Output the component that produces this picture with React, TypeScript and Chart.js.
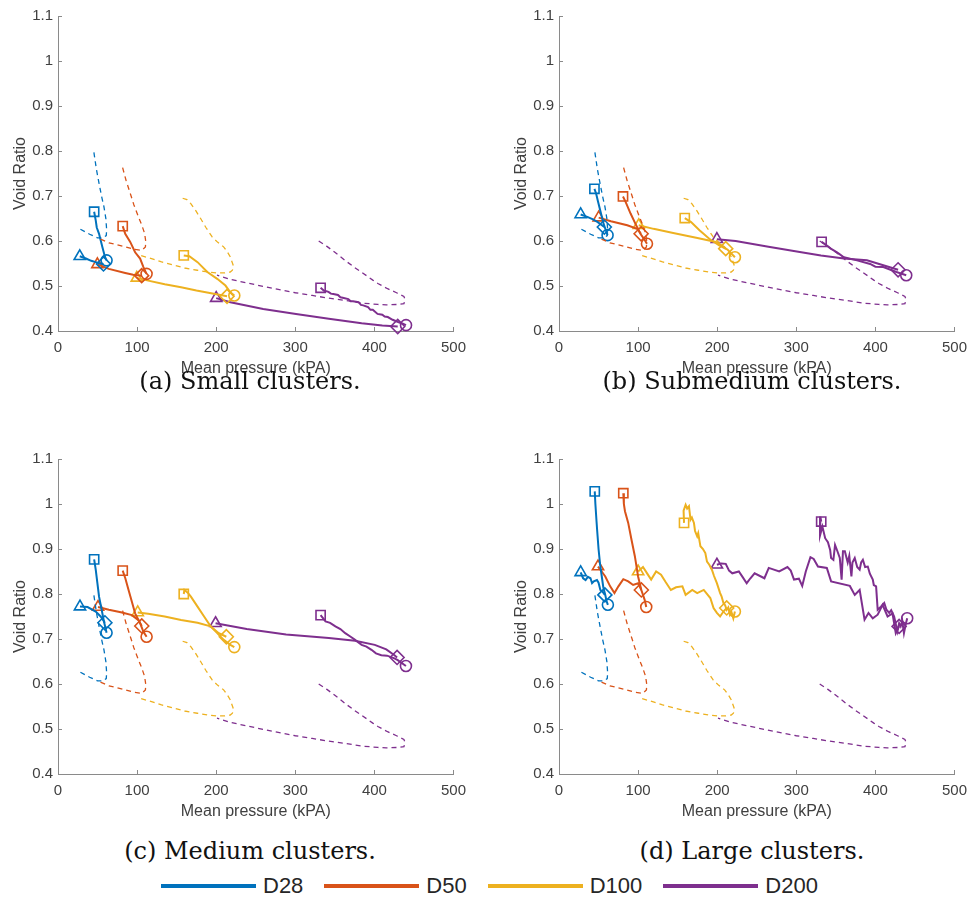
import React, { useEffect, useRef } from "react";
import { Chart, registerables } from "chart.js";
Chart.register(...registerables);

type P = [number, number];

const seriesNames = ["D28", "D50", "D100", "D200"];
const colors = ["#0072BD", "#D95319", "#EDB120", "#7E2F8E"];
const xTicks = [0, 100, 200, 300, 400, 500];
const yTicks = [0.4, 0.5, 0.6, 0.7, 0.8, 0.9, 1, 1.1];
const captions = ["(a) Small clusters.", "(b) Submedium clusters.", "(c) Medium clusters.", "(d) Large clusters."];
const xTitle = "Mean pressure (kPA)";
const yTitle = "Void Ratio";

// reference (dashed) curves, identical in every panel
const ref_D28: P[] = [[45.4, 0.797], [48.5, 0.76], [51.9, 0.728], [55, 0.70], [58.1, 0.676], [60.5, 0.65], [61.5, 0.625], [61, 0.612], [57, 0.607], [50, 0.607], [40, 0.615], [27.4, 0.627]];
const ref_D50: P[] = [[81.7, 0.763], [86, 0.735], [91.3, 0.706], [96, 0.68], [101.6, 0.654], [106, 0.635], [109.5, 0.617], [111, 0.598], [110.5, 0.587], [106, 0.579], [95, 0.582], [85, 0.587], [64.3, 0.596], [50, 0.607]];
const ref_D100: P[] = [[157.6, 0.695], [163, 0.692], [167.9, 0.683], [174, 0.668], [180.3, 0.650], [187, 0.630], [194.9, 0.609], [202, 0.597], [209.4, 0.587], [214, 0.576], [217.7, 0.565], [221.9, 0.544], [220.5, 0.535], [217.7, 0.531], [210, 0.529], [201.1, 0.529], [190, 0.531], [176.2, 0.535], [160, 0.54], [147.2, 0.546], [130, 0.554], [118.2, 0.561], [101.6, 0.569]];
const ref_D200: P[] = [[329.6, 0.600], [340, 0.588], [350, 0.575], [362.8, 0.557], [375, 0.541], [390, 0.523], [398, 0.513], [405, 0.505], [416.7, 0.494], [428, 0.485], [437.3, 0.477], [438.7, 0.470], [437.4, 0.461], [430, 0.459], [415, 0.458], [404.3, 0.459], [385, 0.462], [362.8, 0.468], [342, 0.473], [321.4, 0.479], [300, 0.485], [279.9, 0.492], [260, 0.499], [238.4, 0.507], [217.6, 0.515], [201, 0.524]];

// (a) Small clusters: unload = square -> circle, load = triangle -> diamond
const a_D28_unload: P[] = [[45.7, 0.665], [47.7, 0.646], [49, 0.63], [51.9, 0.616], [56, 0.587], [59.3, 0.565], [61.4, 0.557]];
const a_D28_load: P[] = [[27.5, 0.566], [35.3, 0.561], [42, 0.556], [47.7, 0.553], [53, 0.550], [57.5, 0.549]];
const a_D50_unload: P[] = [[81.8, 0.633], [85, 0.616], [91.3, 0.598], [97.5, 0.575], [103.8, 0.561], [108, 0.542], [112, 0.527]];
const a_D50_load: P[] = [[49.8, 0.548], [64.3, 0.538], [85, 0.529], [95, 0.525], [105.8, 0.523]];
const a_D100_unload: P[] = [[159, 0.568], [166, 0.566], [176.4, 0.553], [188.8, 0.531], [201.3, 0.516], [211.7, 0.501], [217.9, 0.486], [222.9, 0.479]];
const a_D100_load: P[] = [[99.6, 0.518], [114, 0.512], [135, 0.504], [155.6, 0.497], [175, 0.49], [197, 0.483], [213.7, 0.477]];
const a_D200_unload: P[] = [[332, 0.496], [336, 0.490], [342, 0.487], [345, 0.483], [348, 0.482], [354, 0.480], [357, 0.475], [360, 0.474], [367, 0.471], [370, 0.466], [373, 0.466], [380, 0.464], [383, 0.458], [386, 0.457], [392, 0.453], [395, 0.447], [398, 0.447], [404, 0.438], [410, 0.436], [413, 0.432], [417, 0.431], [423, 0.425], [430, 0.420], [436, 0.416], [440, 0.413]];
const a_D200_load: P[] = [[200, 0.473], [217.9, 0.464], [259.4, 0.449], [300.9, 0.438], [342.4, 0.427], [383.9, 0.417], [410, 0.412], [429.5, 0.410]];

// (b) Submedium clusters
const b_D28_unload: P[] = [[44.8, 0.716], [47, 0.705], [49, 0.690], [53.1, 0.661], [56.4, 0.638], [59, 0.625], [61.4, 0.613]];
const b_D28_load: P[] = [[27.4, 0.659], [36.5, 0.653], [43, 0.648], [49, 0.642], [57.3, 0.631]];
const b_D50_unload: P[] = [[80.9, 0.699], [84.2, 0.687], [90.5, 0.661], [96.7, 0.638], [102.9, 0.616], [107, 0.606], [111.2, 0.594]];
const b_D50_load: P[] = [[50.2, 0.652], [65.6, 0.644], [86.3, 0.635], [98.8, 0.627], [103.8, 0.616]];
const b_D100_unload: P[] = [[159, 0.651], [167, 0.642], [177.6, 0.624], [190, 0.605], [202.5, 0.590], [213, 0.581], [222.4, 0.564]];
const b_D100_load: P[] = [[100.8, 0.635], [119.5, 0.627], [144.4, 0.618], [173.5, 0.607], [198.4, 0.598], [204, 0.592], [210.8, 0.583]];
const b_D200_unload: P[] = [[332, 0.598], [337, 0.592], [343.6, 0.583], [352, 0.574], [360.2, 0.564], [376.8, 0.557], [393.4, 0.549], [400, 0.543], [410, 0.542], [426.6, 0.531], [439, 0.524]];
const b_D200_load: P[] = [[199.6, 0.604], [223.3, 0.600], [264.8, 0.587], [306.3, 0.575], [331.2, 0.568], [360.2, 0.561], [389.3, 0.557], [410, 0.546], [428.7, 0.536]];

// (c) Medium clusters
const c_D28_unload: P[] = [[45.7, 0.877], [47.7, 0.854], [49.8, 0.824], [51.9, 0.794], [55.2, 0.765], [58.1, 0.739], [61.4, 0.714]];
const c_D28_load: P[] = [[27.8, 0.772], [37.4, 0.771], [47.7, 0.761], [53.9, 0.750], [59.3, 0.736]];
const c_D50_unload: P[] = [[81.8, 0.852], [85.1, 0.835], [89.2, 0.809], [93.4, 0.783], [97.5, 0.757], [103.8, 0.735], [108, 0.716], [112, 0.705]];
const c_D50_load: P[] = [[50.6, 0.771], [64.3, 0.765], [80.9, 0.759], [93.4, 0.753], [101.7, 0.742], [105.9, 0.729]];
const c_D100_unload: P[] = [[159, 0.800], [159.8, 0.809], [164, 0.803], [168, 0.794], [176.4, 0.772], [184.7, 0.750], [193, 0.728], [201.3, 0.713], [209.6, 0.698], [217.9, 0.687], [222.9, 0.682]];
const c_D100_load: P[] = [[100.8, 0.759], [114, 0.756], [134.9, 0.750], [155.6, 0.742], [176.4, 0.736], [193, 0.728], [203.3, 0.713], [212.8, 0.705]];
const c_D200_unload: P[] = [[332, 0.753], [338.2, 0.739], [344, 0.736], [350.7, 0.728], [357, 0.722], [363.1, 0.713], [370, 0.705], [375.6, 0.698], [383.9, 0.687], [390, 0.683], [396.3, 0.676], [402, 0.668], [408.8, 0.664], [416, 0.663], [425.4, 0.657], [429.5, 0.653], [439.9, 0.640]];
const c_D200_load: P[] = [[199.2, 0.735], [238.6, 0.722], [288.4, 0.710], [342.4, 0.702], [375.6, 0.696], [400.5, 0.687], [415, 0.677], [425.4, 0.664], [428.7, 0.659]];

// (d) Large clusters
const d_D28_unload: P[] = [[45.2, 1.028], [46, 1.0], [47.5, 0.96], [48.3, 0.94], [50, 0.9], [52, 0.865], [54, 0.84], [56, 0.815], [58.5, 0.798], [60, 0.785], [61.8, 0.776]];
const d_D28_load: P[] = [[27.4, 0.848], [30.5, 0.835], [33.6, 0.831], [36.5, 0.838], [39.8, 0.835], [41.8, 0.824], [44, 0.828], [48, 0.831], [50, 0.825], [52.3, 0.809], [55, 0.805], [58, 0.798]];
const d_D50_unload: P[] = [[81.3, 1.024], [82, 1.0], [83.4, 0.984], [87.5, 0.958], [91.6, 0.921], [95.9, 0.884], [100, 0.839], [104.1, 0.809], [108.3, 0.787], [110.3, 0.771]];
const d_D50_load: P[] = [[49.3, 0.861], [54, 0.85], [58.5, 0.839], [64.7, 0.817], [70.1, 0.802], [75.1, 0.817], [81.3, 0.833], [87.5, 0.828], [93.7, 0.82], [100, 0.824], [104.1, 0.809]];
const d_D100_unload: P[] = [[158.1, 0.958], [157.5, 0.985], [160.1, 0.998], [162, 0.99], [164.3, 0.995], [166.3, 0.965], [168, 0.97], [170.6, 0.958], [172, 0.94], [174.7, 0.928], [176, 0.935], [178.8, 0.906], [182, 0.9], [185, 0.891], [187.1, 0.872], [190, 0.865], [193.3, 0.854], [196, 0.84], [199.6, 0.824], [203.7, 0.802], [205.5, 0.795], [207.9, 0.780], [210, 0.775], [212, 0.765], [214, 0.77], [216.1, 0.754], [218, 0.76], [220.4, 0.746], [222.4, 0.761]];
const d_D100_load: P[] = [[100, 0.85], [106.2, 0.86], [112.4, 0.843], [116.5, 0.832], [122.8, 0.85], [129, 0.843], [135, 0.826], [141.4, 0.809], [148, 0.815], [156, 0.817], [160.1, 0.798], [168.5, 0.809], [174.7, 0.802], [183, 0.809], [191.3, 0.791], [195.4, 0.769], [199.6, 0.758], [203.7, 0.750], [207.9, 0.761], [212, 0.769]];
const d_D200_unload: P[] = [[331.5, 0.961], [330.5, 0.972], [330, 0.93], [333, 0.95], [336.5, 0.924], [340, 0.915], [342.8, 0.898], [344, 0.88], [346.9, 0.876], [349, 0.909], [352, 0.895], [355, 0.88], [357.3, 0.832], [359, 0.895], [361.4, 0.895], [365, 0.87], [367, 0.885], [369.7, 0.839], [371, 0.87], [373.9, 0.88], [377, 0.86], [380.1, 0.854], [382, 0.87], [384.2, 0.876], [387, 0.86], [390.4, 0.861], [393, 0.845], [396.7, 0.832], [398, 0.82], [400.9, 0.817], [402.9, 0.765], [407, 0.772], [411.2, 0.780], [414, 0.765], [417.5, 0.758], [420, 0.764], [423.7, 0.750], [427.8, 0.717], [430, 0.735], [432, 0.728], [434, 0.74], [436.1, 0.713], [438, 0.73], [440.2, 0.746]];
const d_D200_load: P[] = [[199.6, 0.865], [205, 0.868], [210.8, 0.867], [215, 0.852], [219.1, 0.846], [227.4, 0.850], [232, 0.838], [237.3, 0.824], [242, 0.835], [247.3, 0.846], [259.7, 0.835], [265.2, 0.858], [278.4, 0.850], [288.8, 0.860], [293, 0.852], [297.1, 0.832], [303.3, 0.834], [307.5, 0.818], [312, 0.85], [317.9, 0.882], [322, 0.878], [327.4, 0.861], [338.6, 0.858], [344, 0.828], [367.7, 0.818], [373.9, 0.798], [380.1, 0.809], [386.3, 0.743], [391.3, 0.758], [396.7, 0.746], [402.9, 0.754], [409.1, 0.776], [415.4, 0.750], [421.6, 0.757], [425.8, 0.713], [430, 0.728]];

const refCurves = [ref_D28, ref_D50, ref_D100, ref_D200];
const panelUnload = [
  [a_D28_unload, a_D50_unload, a_D100_unload, a_D200_unload],
  [b_D28_unload, b_D50_unload, b_D100_unload, b_D200_unload],
  [c_D28_unload, c_D50_unload, c_D100_unload, c_D200_unload],
  [d_D28_unload, d_D50_unload, d_D100_unload, d_D200_unload],
];
const panelLoad = [
  [a_D28_load, a_D50_load, a_D100_load, a_D200_load],
  [b_D28_load, b_D50_load, b_D100_load, b_D200_load],
  [c_D28_load, c_D50_load, c_D100_load, c_D200_load],
  [d_D28_load, d_D50_load, d_D100_load, d_D200_load],
];

const SANS = "'Liberation Sans', Arial, Helvetica, sans-serif";
const TEXT = "#404040";
const AXIS = "#8a8a8a";
const markerSize: Record<string, number> = { rect: 6.5, circle: 5.5, triangle: 6.5, rectRot: 7 };

function pathDataset(pts: P[], color: string, startStyle: string, endStyle: string) {
  const n = pts.length;
  return {
    data: pts.map(([x, y]) => ({ x, y })),
    borderColor: color,
    backgroundColor: "rgba(0,0,0,0)",
    borderWidth: 2,
    showLine: true,
    fill: false,
    tension: 0,
    pointRadius: pts.map((_, i) => (i === 0 ? markerSize[startStyle] : i === n - 1 ? markerSize[endStyle] : 0)),
    pointStyle: pts.map((_, i) => (i === 0 ? startStyle : i === n - 1 ? endStyle : "circle")),
    pointBorderColor: color,
    pointBackgroundColor: "rgba(0,0,0,0)",
    pointBorderWidth: 1.6,
    clip: false as any,
  };
}

function refDataset(pts: P[], color: string) {
  return {
    data: pts.map(([x, y]) => ({ x, y })),
    borderColor: color,
    backgroundColor: "rgba(0,0,0,0)",
    borderWidth: 1.3,
    borderDash: [5, 4],
    showLine: true,
    fill: false,
    tension: 0,
    pointRadius: 0,
  };
}

const innerTicks = {
  id: "innerTicks",
  afterDraw(chart: any) {
    const { ctx, chartArea, scales } = chart;
    ctx.save();
    ctx.strokeStyle = AXIS;
    ctx.lineWidth = 1;
    ctx.beginPath();
    for (const v of xTicks) {
      const px = Math.round(scales.x.getPixelForValue(v)) + 0.5;
      ctx.moveTo(px, chartArea.bottom);
      ctx.lineTo(px, chartArea.bottom - 4);
    }
    for (const v of yTicks) {
      const py = Math.round(scales.y.getPixelForValue(v)) + 0.5;
      ctx.moveTo(chartArea.left, py);
      ctx.lineTo(chartArea.left + 4, py);
    }
    ctx.stroke();
    ctx.restore();
  },
};

function Panel({ idx, left, top }: { idx: number; left: number; top: number }) {
  const ref = useRef<HTMLCanvasElement>(null);
  useEffect(() => {
    const datasets: any[] = [];
    for (let s = 0; s < 4; s++) datasets.push(refDataset(refCurves[s], colors[s]));
    for (let s = 0; s < 4; s++) {
      datasets.push(pathDataset(panelUnload[idx][s], colors[s], "rect", "circle"));
      datasets.push(pathDataset(panelLoad[idx][s], colors[s], "triangle", "rectRot"));
    }
    const chart = new Chart(ref.current!, {
      type: "scatter",
      data: { datasets },
      options: {
        animation: false,
        responsive: false,
        events: [],
        layout: { padding: { top: 16, right: 14, left: 0, bottom: 0 } },
        plugins: { legend: { display: false }, tooltip: { enabled: false } },
        scales: {
          x: {
            type: "linear",
            min: 0,
            max: 500,
            afterBuildTicks: (s: any) => {
              s.ticks = xTicks.map((v) => ({ value: v }));
            },
            afterFit: (s: any) => {
              s.height = 50;
            },
            grid: { display: false, drawTicks: false },
            border: { display: true, color: AXIS, width: 1 },
            ticks: { color: TEXT, font: { family: SANS, size: 15 }, padding: 8, maxRotation: 0, autoSkip: false },
            title: { display: true, text: xTitle, color: TEXT, font: { family: SANS, size: 16 }, padding: { top: 0, bottom: 3 } },
          },
          y: {
            type: "linear",
            min: 0.4,
            max: 1.1,
            afterBuildTicks: (s: any) => {
              s.ticks = yTicks.map((v) => ({ value: v }));
            },
            afterFit: (s: any) => {
              s.width = 58;
            },
            grid: { display: false, drawTicks: false },
            border: { display: true, color: AXIS, width: 1 },
            ticks: {
              color: TEXT,
              font: { family: SANS, size: 15 },
              padding: 5,
              autoSkip: false,
              callback: (v: any) => String(Math.round(Number(v) * 10) / 10),
            },
            title: { display: true, text: yTitle, color: TEXT, font: { family: SANS, size: 16 }, padding: { top: 11, bottom: 0 } },
          },
        },
      } as any,
      plugins: [innerTicks],
    });
    return () => chart.destroy();
  }, [idx]);
  return (
    <canvas
      ref={ref}
      width={474}
      height={381}
      style={{ position: "absolute", left, top, width: 474, height: 381 }}
    />
  );
}

const panelPos = [
  { left: 0, top: 0 },
  { left: 501, top: 0 },
  { left: 0, top: 443 },
  { left: 501, top: 443 },
];
const captionPos = [
  { cx: 250, cy: 381 },
  { cx: 752, cy: 381 },
  { cx: 250, cy: 851 },
  { cx: 752, cy: 851 },
];

export default function App() {
  return (
    <div style={{ position: "absolute", left: 0, top: 0, width: 978, height: 912, background: "#fff", overflow: "hidden" }}>
      {panelPos.map((p, i) => (
        <Panel key={i} idx={i} left={p.left} top={p.top} />
      ))}
      {captions.map((c, i) => (
        <div
          key={c}
          style={{
            position: "absolute",
            left: captionPos[i].cx - 200,
            top: captionPos[i].cy - 15,
            width: 400,
            height: 30,
            lineHeight: "30px",
            textAlign: "center",
            fontFamily: "'DejaVu Serif', serif",
            fontSize: 24,
            color: "#111",
          }}
        >
          {c}
        </div>
      ))}
      <div style={{ position: "absolute", left: 161, top: 872, height: 28, display: "flex", alignItems: "center" }}>
        {seriesNames.map((n, i) => (
          <div key={n} style={{ display: "flex", alignItems: "center", marginRight: 21 }}>
            <div style={{ width: 95, height: 4, background: colors[i] }} />
            <span
              style={{
                marginLeft: 7,
                fontFamily: "'Liberation Sans Narrow', 'Liberation Sans', Arial, sans-serif",
                fontSize: 22,
                color: "#262626",
              }}
            >
              {n}
            </span>
          </div>
        ))}
      </div>
    </div>
  );
}
